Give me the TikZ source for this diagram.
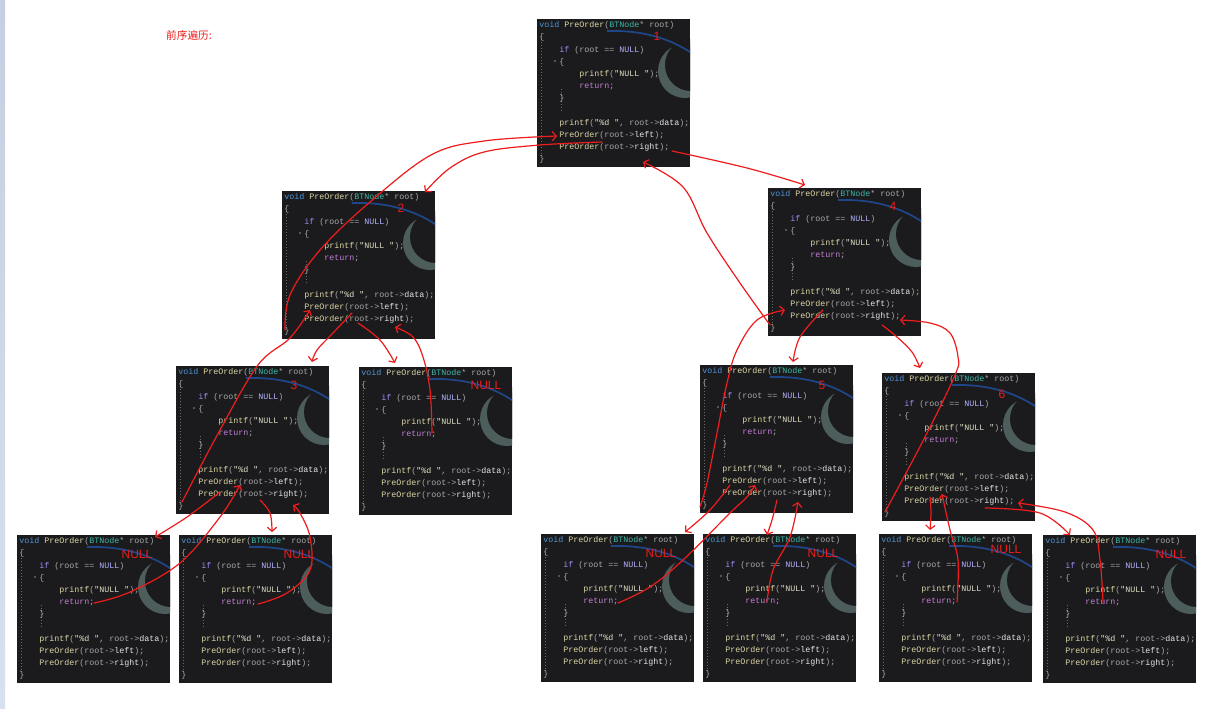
\documentclass[tikz,border=0pt]{standalone}
\usepackage{fontspec}
\newfontfamily\codefont{Liberation Mono}
\newfontfamily\labfont{Liberation Sans}
\newfontfamily\cjkfont{Noto Sans CJK SC}
\usetikzlibrary{arrows.meta,calc}
\definecolor{cbg}{HTML}{1B1B1D}
\definecolor{ckw}{HTML}{4F95D8}
\definecolor{cfn}{HTML}{DCD6A6}
\definecolor{ctype}{HTML}{3FB8A8}
\definecolor{cpl}{HTML}{A9A9A9}
\definecolor{cvar}{HTML}{E6E6E6}
\definecolor{cif}{HTML}{9A8CF2}
\definecolor{cret}{HTML}{C27FD6}
\definecolor{cnull}{HTML}{B3B3FF}
\definecolor{cstr}{HTML}{E2E0C8}
\definecolor{cred}{HTML}{EE1C1C}
\definecolor{cmoon}{HTML}{4C5D5C}
\definecolor{cswirl}{HTML}{1F4E9C}
\definecolor{cguide}{HTML}{6A6A6A}
\tikzset{
  codebg/.style={rectangle, fill=cbg, draw=none, inner sep=0pt, anchor=north west,
    minimum width=114.75pt, minimum height=111pt},
  codetxt/.style={anchor=base west, inner sep=0pt, font=\codefont\fontsize{6.25}{7}\selectfont, text=cpl},
  lab/.style={text=cred, font=\labfont\fontsize{9}{10}\selectfont, inner sep=0pt},
  guide/.style={cguide, line width=0.6pt, dash pattern=on 0.75pt off 1.5pt},
  redarrow/.style={draw=cred, line width=0.9pt, line cap=round, line join=round,
    -{Straight Barb[length=3pt,width=7pt,line width=0.9pt]}},
}
\newcommand\cl[3]{\node[codetxt] at (2+5*#1, 8.6+12.2*#2) {#3};}
\newcommand\codebox[6]{%
  \node[codebg] (#1) at (#2,#3) {};
  \begin{scope}[shift={(#1.north west)}]
    \begin{scope}
      \clip (0,0) rectangle (153,148);
      \fill[cmoon] (148,52) circle (27);
      \fill[cbg] (154,46) circle (26);
      \draw[cswirl, line width=1.3pt, opacity=0.85] (70,12) .. controls (105,11) and (135,19) .. (160,38);
    \end{scope}
    \draw[guide] (4,20) -- (4,137);
    \draw[guide] (24,70) -- (24,94);
    \fill[cguide] (18,42) circle (1.1);
    \cl{0}{0}{\textcolor{ckw}{void} \textcolor{cfn}{PreOrder}(\textcolor{ctype}{BTNode}* root)}
    \cl{0}{1}{\{}
    \cl{4}{2}{\textcolor{cif}{if} (root == \textcolor{cnull}{NULL})}
    \cl{4}{3}{\{}
    \cl{8}{4}{\textcolor{cfn}{printf}(\textcolor{cstr}{"NULL "});}
    \cl{8}{5}{\textcolor{cret}{return};}
    \cl{4}{6}{\}}
    \cl{4}{8}{\textcolor{cfn}{printf}(\textcolor{cstr}{"\%d "}, root->\textcolor{cvar}{data});}
    \cl{4}{9}{\textcolor{cfn}{PreOrder}(root->\textcolor{cvar}{left});}
    \cl{4}{10}{\textcolor{cfn}{PreOrder}(root->\textcolor{cvar}{right});}
    \cl{0}{11}{\}}
    \node[lab] (#1-lab) at (#5,#6) {#4};
  \end{scope}}
\newcommand\anch[4]{\coordinate (#1) at ($(#2.north west)+(#3,#4)$);}
\begin{document}
\begin{tikzpicture}[x=0.75pt,y=-0.75pt]
\useasboundingbox (0,0) rectangle (1227,708);
\fill[white] (0,0) rectangle (1227,708);
\shade[top color={rgb,255:red,197;green,207;blue,225}, bottom color={rgb,255:red,216;green,224;blue,238}] (0,0) rectangle (5,708);
\node[text=cred, font=\cjkfont\fontsize{8}{9}\selectfont, inner sep=0pt] (title) at (189,35) {前序遍历:};
% boxes
\codebox{B1}{537}{19}{1}{120}{17}
\codebox{B2}{282}{191}{2}{119}{17}
\codebox{B4}{768}{188}{4}{125}{18}
\codebox{B3}{176}{366}{3}{118}{19}
\codebox{N2}{359}{367}{NULL}{127}{18}
\codebox{B5}{700}{365}{5}{122}{20}
\codebox{B6}{882}{373}{6}{120}{21}
\codebox{Na}{17}{535}{NULL}{120}{19}
\codebox{Nb}{179}{535}{NULL}{120}{19}
\codebox{Nc}{541}{534}{NULL}{120}{19}
\codebox{Nd}{703}{534}{NULL}{120}{19}
\codebox{Ne}{879}{534}{NULL}{127}{15}
\codebox{Nf}{1043}{535}{NULL}{128}{19}
% anchor points of connectors
\anch{c1s}{B1}{65}{123}  \anch{c1e}{B2}{143}{1}
\anch{r2s}{B2}{3}{139}   \anch{r2e}{B1}{20}{117}
\anch{c3s}{B1}{135}{132} \anch{c3e}{B4}{37}{-3}
\anch{r4s}{B4}{2}{137}   \anch{r4e}{B1}{106}{143}
\anch{c5s}{B2}{70}{122}  \anch{c5e}{B3}{136}{-4}
\anch{r6s}{B3}{6}{136}   \anch{r6e}{B2}{28}{119}
\anch{c7s}{B2}{76}{132}  \anch{c7e}{N2}{36}{-4}
\anch{r8s}{N2}{73}{66}   \anch{r8e}{B2}{113}{136}
\anch{c9s}{B3}{44}{126}  \anch{c9e}{Na}{138}{2}
\anch{r10s}{Na}{77}{68}  \anch{r10e}{B3}{64}{119}
\anch{c11s}{B3}{84}{134} \anch{c11e}{Nb}{93}{-3}
\anch{r12s}{Nb}{79}{69}  \anch{r12e}{B3}{117}{139}
\anch{c13s}{B4}{55}{122} \anch{c13e}{B5}{93}{-3}
\anch{r14s}{B5}{0}{142}  \anch{r14e}{B4}{17}{122}
\anch{c15s}{B4}{114}{137} \anch{c15e}{B6}{38}{-5}
\anch{r16s}{B6}{3}{139}  \anch{r16e}{B4}{132}{132}
\anch{c17s}{B5}{30}{120} \anch{c17e}{Nc}{144}{-2}
\anch{r18s}{Nc}{77}{69}  \anch{r18e}{B5}{55}{120}
\anch{c19s}{B5}{77}{135} \anch{c19e}{Nd}{64}{1}
\anch{r20s}{Nd}{64}{68}  \anch{r20e}{B5}{98}{137}
\anch{c21s}{B6}{48}{124} \anch{c21e}{Ne}{51}{-4}
\anch{r22s}{Ne}{78}{68}  \anch{r22e}{B6}{60}{121}
\anch{c23s}{B6}{103}{135} \anch{c23e}{Nf}{27}{0}
\anch{r24s}{Nf}{60}{67}  \anch{r24e}{B6}{136}{130}
% connectors
\draw[redarrow] plot[smooth, tension=0.6] coordinates {(c1s) (540,145) (484,152) (450,168) (c1e)};
\draw[redarrow] plot[smooth, tension=0.6] coordinates {(r2s) (290,295) (320,250) (370,202) (431,155) (484,141) (r2e)};
\draw[redarrow] plot[smooth, tension=0.6] coordinates {(c3s) (747,168) (c3e)};
\draw[redarrow] plot[smooth, tension=0.6] coordinates {(r4s) (740,283) (707,233) (683,187) (r4e)};
\draw[redarrow] plot[smooth, tension=0.6] coordinates {(c5s) (333,333) (317,350) (c5e)};
\draw[redarrow] plot[smooth, tension=0.6] coordinates {(r6s) (220,430) (258,365) (290,338) (r6e)};
\draw[redarrow] plot[smooth, tension=0.6] coordinates {(c7s) (380,340) (c7e)};
\draw[redarrow] plot[smooth, tension=0.6] coordinates {(r8s) (430,390) (423,357) (413,337) (r8e)};
\draw[redarrow] plot[smooth, tension=0.6] coordinates {(c9s) (187,517) (c9e)};
\draw[redarrow] plot[smooth, tension=0.6] coordinates {(r10s) (130,592) (180,563) (220,517) (r10e)};
\draw[redarrow] plot[smooth, tension=0.6] coordinates {(c11s) (270,513) (c11e)};
\draw[redarrow] plot[smooth, tension=0.6] coordinates {(r12s) (287,593) (310,570) (310,537) (300,513) (r12e)};
\draw[redarrow] plot[smooth, tension=0.6] coordinates {(c13s) (800,337) (c13e)};
\draw[redarrow] plot[smooth, tension=0.6] coordinates {(r14s) (707,483) (717,433) (727,383) (737,350) (757,320) (r14e)};
\draw[redarrow] plot[smooth, tension=0.6] coordinates {(c15s) (897,337) (912,352) (c15e)};
\draw[redarrow] plot[smooth, tension=0.6] coordinates {(r16s) (925,437) (955,375) (958,357) (950,333) (930,323) (r16e)};
\draw[redarrow] plot[smooth, tension=0.6] coordinates {(c17s) (710,510) (c17e)};
\draw[redarrow] plot[smooth, tension=0.6] coordinates {(r18s) (650,587) (683,560) (730,513) (747,497) (r18e)};
\draw[redarrow] plot[smooth, tension=0.6] coordinates {(c19s) (772,520) (c19e)};
\draw[redarrow] plot[smooth, tension=0.6] coordinates {(r20s) (773,570) (790,537) (r20e)};
\draw[redarrow] plot[smooth, tension=0.6] coordinates {(c21s) (931,512) (c21e)};
\draw[redarrow] plot[smooth, tension=0.6] coordinates {(r22s) (958,560) (950,530) (r22e)};
\draw[redarrow] plot[smooth, tension=0.6] coordinates {(c23s) (1040,513) (c23e)};
\draw[redarrow] plot[smooth, tension=0.6] coordinates {(r24s) (1100,560) (1093,530) (1065,512) (r24e)};
\end{tikzpicture}
\end{document}
